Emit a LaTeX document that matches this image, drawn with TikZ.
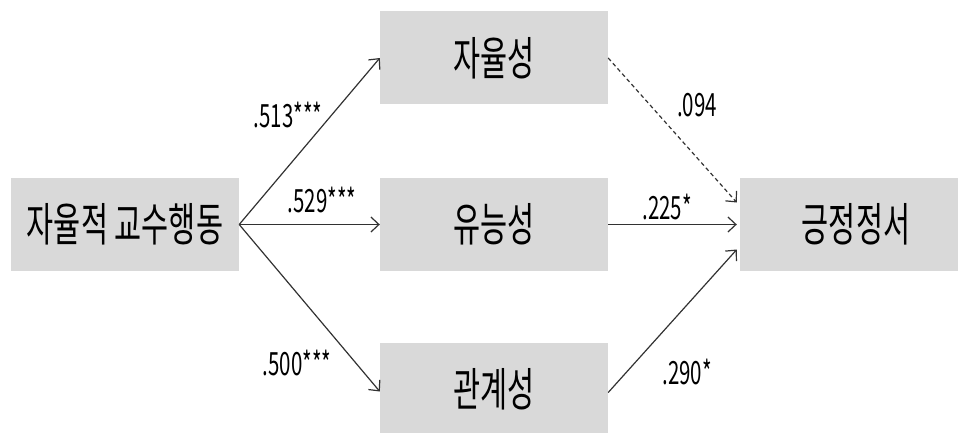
\documentclass[tikz,border=0pt]{standalone}
\usepackage{fontspec}
\usetikzlibrary{arrows.meta}
\newfontfamily\krfont[FakeStretch=0.64]{Noto Sans CJK KR}
\newfontfamily\numfont[FakeStretch=0.64]{Noto Sans CJK KR}
\definecolor{boxgray}{RGB}{217,217,217}
\definecolor{linegray}{RGB}{50,50,50}
\tikzset{
  vbox/.style={fill=boxgray, draw=none, minimum width=228pt, minimum height=93pt, inner sep=0pt,
    font=\krfont\fontsize{46}{46}\selectfont, text=black},
  conn/.style={draw=linegray, line width=1.2pt, -{Straight Barb[length=8pt,width=15pt,line width=1.2pt]}},
  dconn/.style={conn, dash pattern=on 4pt off 3pt},
  coef/.style={font=\numfont\fontsize{32}{32}\selectfont, text=black, inner sep=0pt}
}
\begin{document}
\begin{tikzpicture}[x=1pt,y=-1pt]
\useasboundingbox (0,0) rectangle (958,433);
\node[vbox] (a) at (125,224.5) {\raisebox{-4pt}{자율적 교수행동}};
\node[vbox] (b1) at (494,58) {자율성};
\node[vbox] (b2) at (494,224.5) {\raisebox{-3pt}{유능성}};
\node[vbox] (b3) at (494,389.5) {\raisebox{-4pt}{관계성}};
\node[vbox, minimum width=232pt] (c) at (856,224.5) {\raisebox{-3pt}{긍정정서}};
\coordinate (c1) at ([xshift=-3pt,yshift=22pt]c.west);
\coordinate (c2) at ([xshift=-3pt]c.west);
\coordinate (c3) at ([xshift=-3pt,yshift=-25pt]c.west);
\coordinate (b3o) at ([yshift=-3pt]b3.east);
\draw[conn] (a.east) -- (b1.west);
\draw[conn] (a.east) -- (b2.west);
\draw[conn] (a.east) -- ([yshift=-2pt]b3.west);
\draw[dconn] (b1.east) -- (c1);
\draw[conn] (b2.east) -- (c2);
\draw[conn] (b3o) -- (c3);
\node[coef] (l1) at (288,115) {.513***};
\node[coef] (l2) at (322,200) {.529***};
\node[coef] (l3) at (297,363) {.500***};
\node[coef] (l4) at (697,105) {.094};
\node[coef] (l5) at (667,207) {.225*};
\node[coef] (l6) at (687,372) {.290*};
\end{tikzpicture}
\end{document}
